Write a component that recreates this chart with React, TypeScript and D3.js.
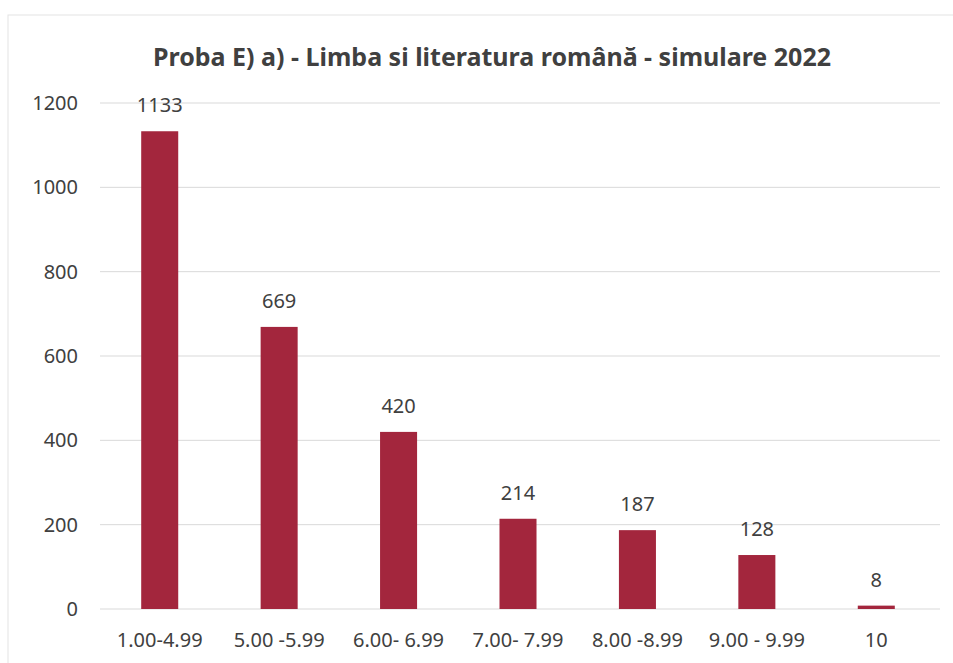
import * as d3 from "d3";
import React from "react";

const categories = ["1.00-4.99", "5.00 -5.99", "6.00- 6.99", "7.00- 7.99", "8.00 -8.99", "9.00 - 9.99", "10"];
const counts = [1133, 669, 420, 214, 187, 128, 8];
const yTicks = [0, 200, 400, 600, 800, 1000, 1200];
const title = "Proba E) a) - Limba si literatura română - simulare 2022";

const W = 953;
const H = 663;
const font = "'Noto Sans', sans-serif";

export default function App() {
  const x = d3
    .scaleBand<string>()
    .domain(categories)
    .range([100, 936])
    .paddingInner(0.69)
    .paddingOuter(0.345);
  const y = d3.scaleLinear().domain([0, 1200]).range([609, 103]);

  return (
    <svg
      width={W}
      height={H}
      style={{ position: "absolute", left: 0, top: 0, background: "#fff" }}
    >
      <rect x={8} y={15} width={W} height={H} fill="none" stroke="#e4e4e4" />
      <text
        x={492}
        y={66}
        textAnchor="middle"
        fontFamily={font}
        fontWeight="bold"
        fontSize={25}
        fill="#404040"
      >
        {title}
      </text>
      {yTicks.map((t) => (
        <g key={t}>
          <line x1={100} x2={940} y1={y(t)} y2={y(t)} stroke="#d9d9d9" strokeWidth={1} />
          <text
            x={78}
            y={y(t)}
            dy="0.35em"
            textAnchor="end"
            fontFamily={font}
            fontSize={20}
            fill="#404040"
          >
            {t}
          </text>
        </g>
      ))}
      {categories.map((c, i) => {
        const bx = x(c) ?? 0;
        const cx = bx + x.bandwidth() / 2;
        return (
          <g key={c}>
            <rect
              x={bx}
              y={y(counts[i])}
              width={x.bandwidth()}
              height={y(0) - y(counts[i])}
              fill="#a3263d"
            />
            <text
              x={cx}
              y={y(counts[i]) - 19}
              textAnchor="middle"
              fontFamily={font}
              fontSize={20}
              fill="#404040"
            >
              {counts[i]}
            </text>
            <text
              x={cx}
              y={647}
              textAnchor="middle"
              fontFamily={font}
              fontSize={20}
              fill="#404040"
            >
              {c}
            </text>
          </g>
        );
      })}
    </svg>
  );
}
